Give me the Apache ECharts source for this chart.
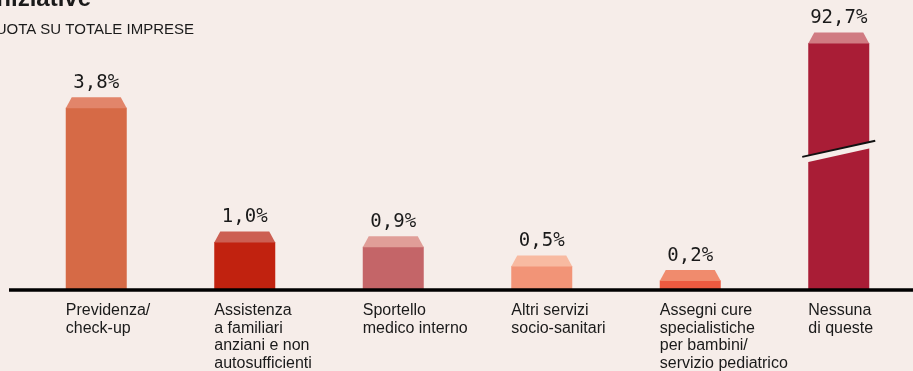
<!DOCTYPE html>
<html>
<head>
<meta charset="utf-8">
<script src="https://cdn.jsdelivr.net/npm/echarts@6/dist/echarts.min.js"></script>
<style>
  html, body { margin: 0; padding: 0; background: #f6ede9; }
  #chart { width: 913px; height: 371px; }
</style>
</head>
<body>
<div id="chart"></div>
<script>
// Categories (multi-line labels under each bar)
const categories = [
  'Previdenza/\ncheck-up',
  'Assistenza\na familiari\nanziani e non\nautosufficienti',
  'Sportello\nmedico interno',
  'Altri servizi\nsocio-sanitari',
  'Assegni cure\nspecialistiche\nper bambini/\nservizio pediatrico',
  'Nessuna\ndi queste'
];
// Share of companies, %
const values = [3.8, 1.0, 0.9, 0.5, 0.2, 92.7];
const valueLabels = ['3,8%', '1,0%', '0,9%', '0,5%', '0,2%', '92,7%'];
// Front face and top face colours for each bar
const bodyColors = ['#d66a46', '#c1220f', '#c46568', '#f29477', '#ec5a40', '#a91d36'];
const capColors  = ['#e2856a', '#cc5f52', '#e09e98', '#f8baa1', '#f08b6d', '#d07b82'];
// The last bar is drawn on its own axis with a cut between these values
const brokenIndex = 5;
const breakRange = [2.8, 90.5];

const BG = '#f6ede9';
const INK = '#1a1a1a';

const smallData = [];
const bigData = [];
values.forEach(function (v, i) {
  (i === brokenIndex ? bigData : smallData).push([i, v]);
});

function renderBar(params, api) {
  const i = api.value(0);
  const v = api.value(1);
  const base = api.coord([i, 0]);
  const top = api.coord([i, v]);
  const w = 61, capH = 10.5, inset = 6;
  const x0 = base[0] - w / 2;
  const children = [
    { type: 'rect', shape: { x: x0, y: top[1], width: w, height: base[1] - top[1] },
      style: { fill: bodyColors[i] } },
    { type: 'polygon', shape: { points: [[x0, top[1] + 0.5], [x0 + w, top[1] + 0.5], [x0 + w - inset, top[1] - capH], [x0 + inset, top[1] - capH]] },
      style: { fill: capColors[i] } },
    { type: 'text', style: { text: valueLabels[i], x: base[0], y: top[1] - capH - 14,
      align: 'center', verticalAlign: 'middle', font: '19px "DejaVu Sans Mono"', fill: INK } },
    { type: 'text', style: { text: categories[i], x: x0, y: base[1] + 12,
      align: 'left', verticalAlign: 'top', font: '16px "Liberation Sans"', lineHeight: 17.5, fill: INK } }
  ];
  if (params.seriesIndex === 1) {
    const yLo = api.coord([i, breakRange[0]])[1];
    const yHi = api.coord([i, breakRange[1]])[1];
    const s = 0.22, half = w / 2;
    children.push({ type: 'polygon', shape: { points: [
      [x0 - 1, yHi + s * (half + 1)], [x0 + w + 1, yHi - s * (half + 1)],
      [x0 + w + 1, yLo - s * (half + 1)], [x0 - 1, yLo + s * (half + 1)]] },
      style: { fill: BG } });
    children.push({ type: 'line', shape: { x1: x0 - 6, y1: yHi + s * (half + 6), x2: x0 + w + 6, y2: yHi - s * (half + 6) },
      style: { stroke: '#111', lineWidth: 2 } });
  }
  return { type: 'group', children: children };
}

const chart = echarts.init(document.getElementById('chart'), null, { renderer: 'canvas' });
chart.setOption({
  backgroundColor: BG,
  animation: false,
  grid: { left: 22, right: 0, top: 43, bottom: 81 },
  xAxis: {
    type: 'category', data: categories,
    axisLine: { show: false }, axisTick: { show: false }, axisLabel: { show: false }
  },
  yAxis: [
    { type: 'value', min: 0, max: 5.15, show: false, splitLine: { show: false } },
    { type: 'value', min: 0, max: 92.7, show: false, splitLine: { show: false },
      breaks: [{ start: breakRange[0], end: breakRange[1], gap: '2.6%' }],
      breakArea: { show: false } }
  ],
  series: [
    { type: 'custom', yAxisIndex: 0, data: smallData, renderItem: renderBar, clip: false, silent: true },
    { type: 'custom', yAxisIndex: 1, data: bigData, renderItem: renderBar, clip: false, silent: true }
  ]
});

const y0 = chart.convertToPixel({ yAxisIndex: 0 }, 0);
chart.setOption({
  graphic: [
    { type: 'text', z: 10, style: { text: 'iniziative', x: 91, y: -0.6, align: 'right', verticalAlign: 'middle',
      font: 'bold 24px "Liberation Sans"', fill: INK } },
    { type: 'text', z: 10, style: { text: 'QUOTA SU TOTALE IMPRESE', x: 194, y: 29.8, align: 'right', verticalAlign: 'middle',
      font: '15px "Liberation Sans"', fill: INK } },
    { type: 'line', z: 10, shape: { x1: 9, y1: y0, x2: 913, y2: y0 }, style: { stroke: '#000', lineWidth: 3.5 } }
  ]
});
</script>
</body>
</html>
